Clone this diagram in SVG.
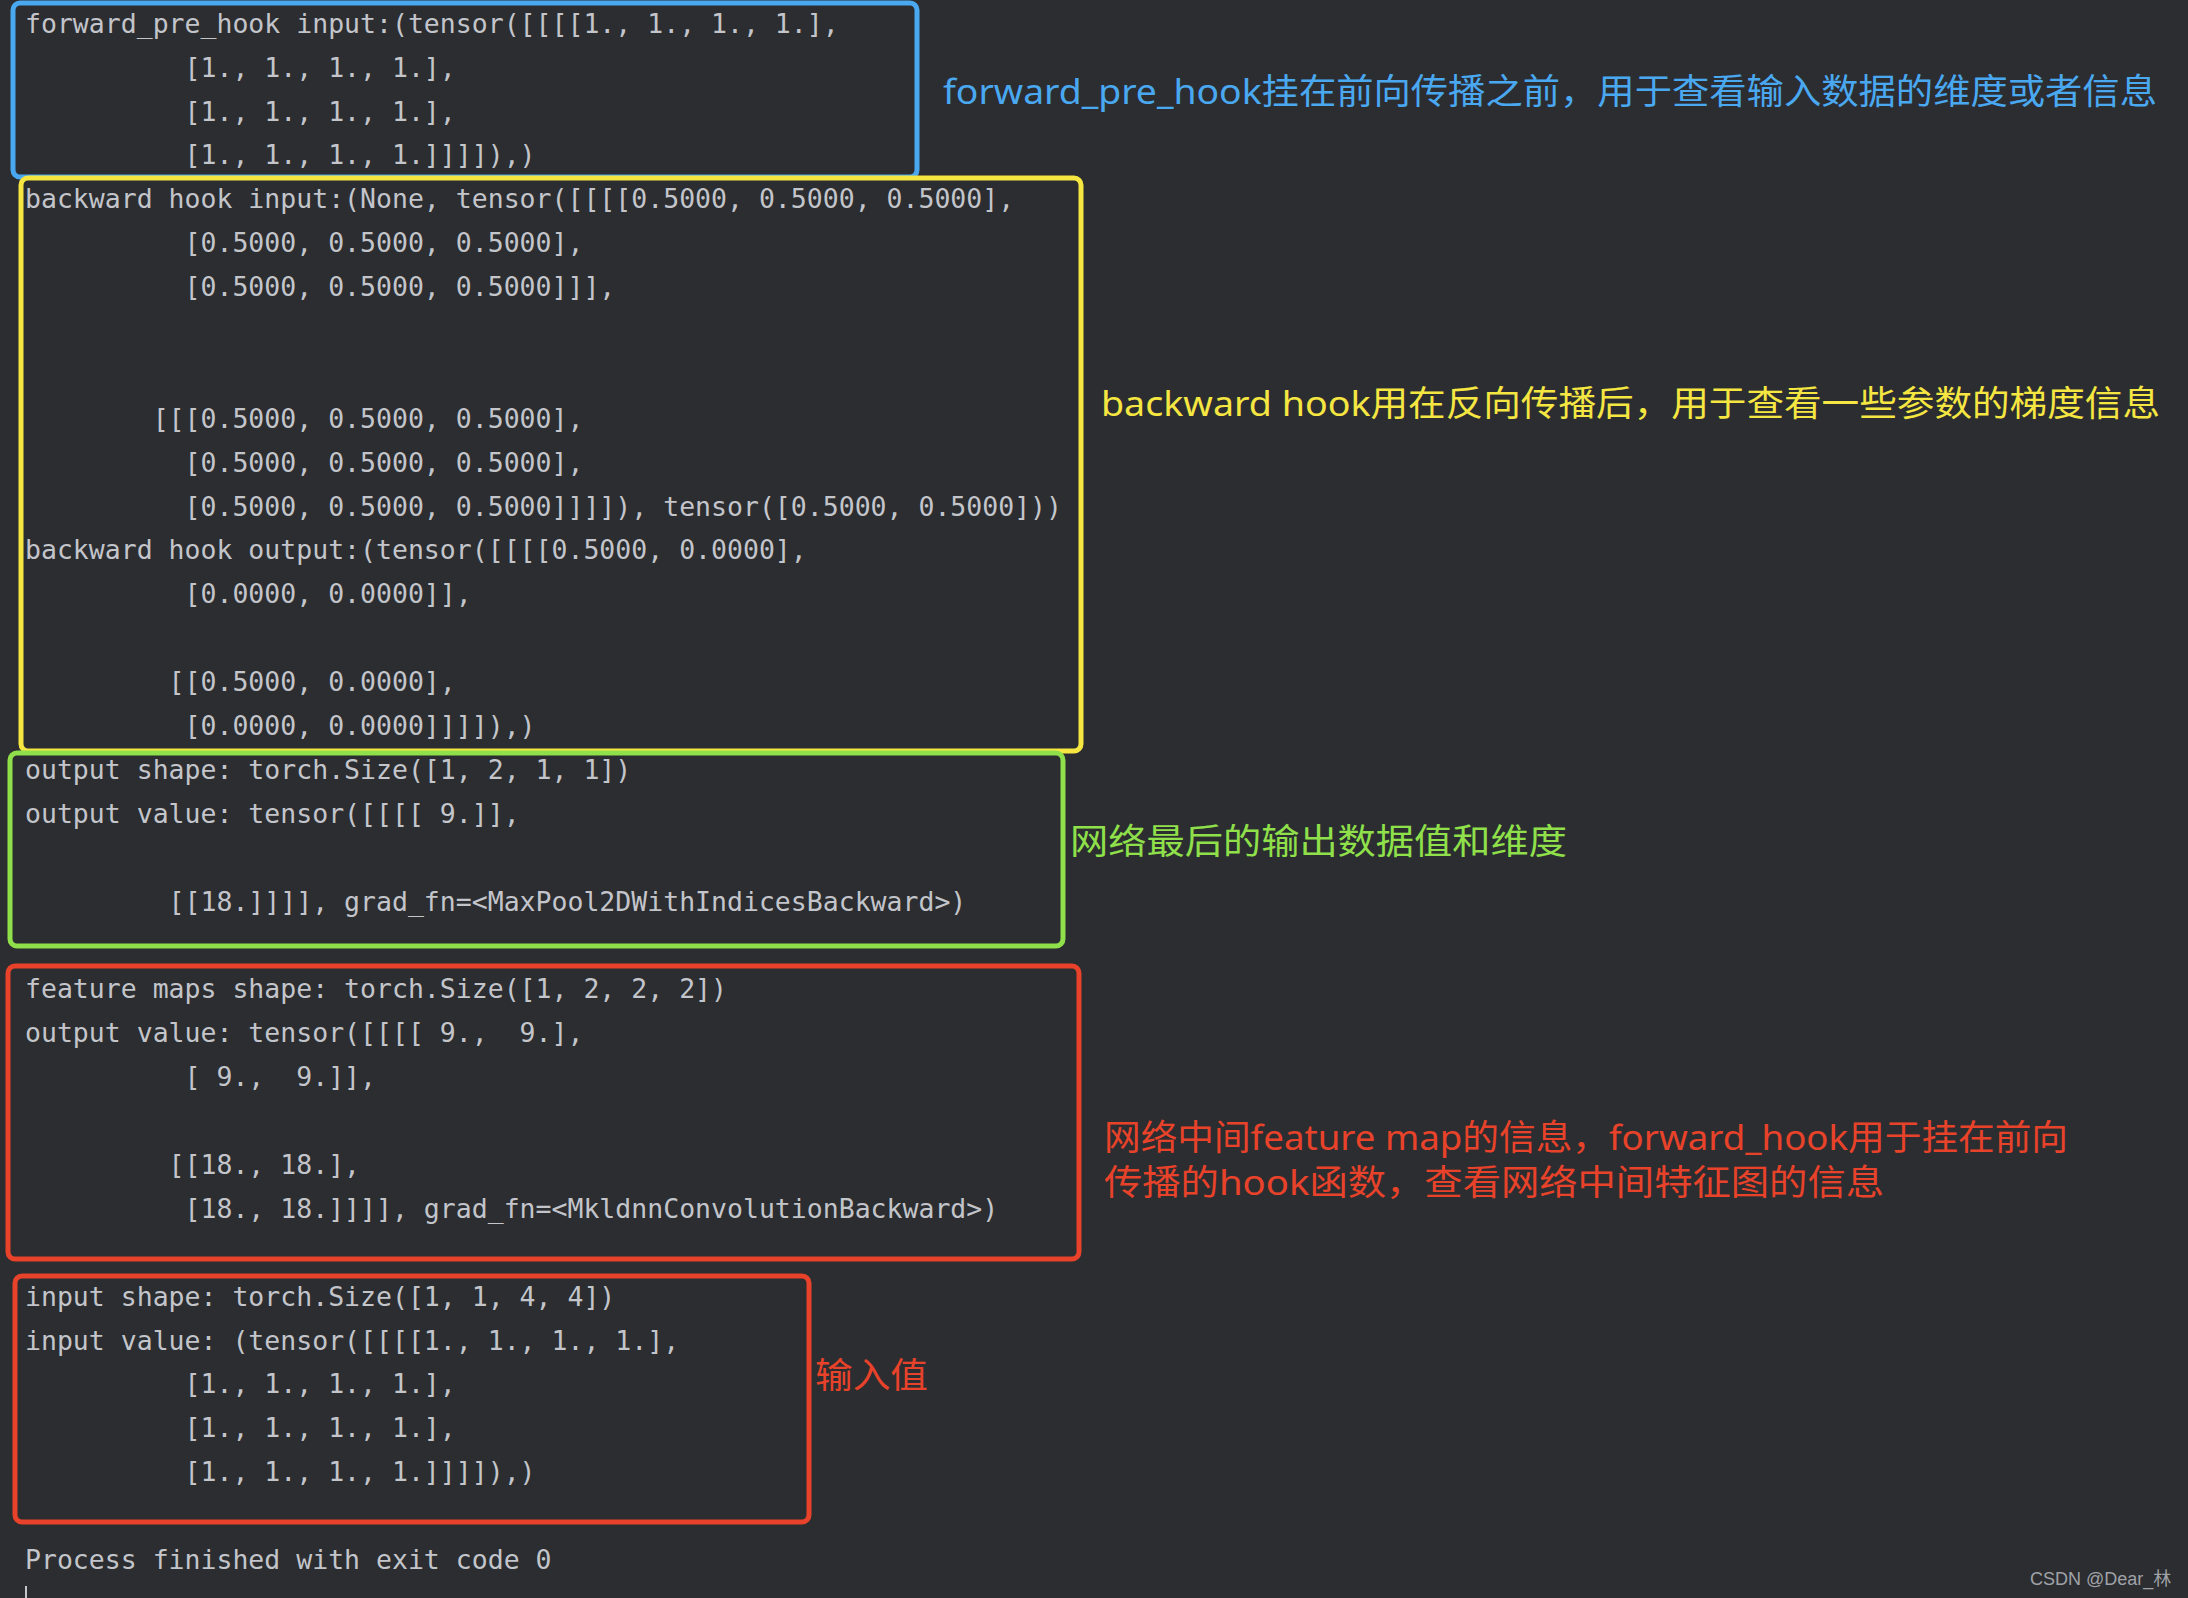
<svg xmlns="http://www.w3.org/2000/svg" width="2188" height="1598" viewBox="0 0 2188 1598">
<style>
.c{font-family:"DejaVu Sans Mono","Liberation Mono",monospace;font-size:26.5px;fill:#c3c5cb;white-space:pre}
.b{fill:none;stroke-width:5;rx:7}
.l{font-family:"Noto Sans","Noto Sans CJK SC",sans-serif;font-size:35px}
</style>
<rect width="2188" height="1598" fill="#2b2d30"/>
<g id="code" class="c" transform="translate(0,2)">
<text x="25" y="30.7" xml:space="preserve">forward_pre_hook input:(tensor([[[[1., 1., 1., 1.],</text>
<text x="25" y="74.6" xml:space="preserve">          [1., 1., 1., 1.],</text>
<text x="25" y="118.5" xml:space="preserve">          [1., 1., 1., 1.],</text>
<text x="25" y="162.4" xml:space="preserve">          [1., 1., 1., 1.]]]]),)</text>
<text x="25" y="206.3" xml:space="preserve">backward hook input:(None, tensor([[[[0.5000, 0.5000, 0.5000],</text>
<text x="25" y="250.2" xml:space="preserve">          [0.5000, 0.5000, 0.5000],</text>
<text x="25" y="294.1" xml:space="preserve">          [0.5000, 0.5000, 0.5000]]],</text>
<text x="25" y="425.7" xml:space="preserve">        [[[0.5000, 0.5000, 0.5000],</text>
<text x="25" y="469.6" xml:space="preserve">          [0.5000, 0.5000, 0.5000],</text>
<text x="25" y="513.5" xml:space="preserve">          [0.5000, 0.5000, 0.5000]]]]), tensor([0.5000, 0.5000]))</text>
<text x="25" y="557.4" xml:space="preserve">backward hook output:(tensor([[[[0.5000, 0.0000],</text>
<text x="25" y="601.3" xml:space="preserve">          [0.0000, 0.0000]],</text>
<text x="25" y="689.1" xml:space="preserve">         [[0.5000, 0.0000],</text>
<text x="25" y="733.0" xml:space="preserve">          [0.0000, 0.0000]]]]),)</text>
<text x="25" y="776.9" xml:space="preserve">output shape: torch.Size([1, 2, 1, 1])</text>
<text x="25" y="820.8" xml:space="preserve">output value: tensor([[[[ 9.]],</text>
<text x="25" y="908.6" xml:space="preserve">         [[18.]]]], grad_fn=&lt;MaxPool2DWithIndicesBackward&gt;)</text>
<text x="25" y="996.3" xml:space="preserve">feature maps shape: torch.Size([1, 2, 2, 2])</text>
<text x="25" y="1040.2" xml:space="preserve">output value: tensor([[[[ 9.,  9.],</text>
<text x="25" y="1084.1" xml:space="preserve">          [ 9.,  9.]],</text>
<text x="25" y="1171.9" xml:space="preserve">         [[18., 18.],</text>
<text x="25" y="1215.8" xml:space="preserve">          [18., 18.]]]], grad_fn=&lt;MkldnnConvolutionBackward&gt;)</text>
<text x="25" y="1303.6" xml:space="preserve">input shape: torch.Size([1, 1, 4, 4])</text>
<text x="25" y="1347.5" xml:space="preserve">input value: (tensor([[[[1., 1., 1., 1.],</text>
<text x="25" y="1391.4" xml:space="preserve">          [1., 1., 1., 1.],</text>
<text x="25" y="1435.3" xml:space="preserve">          [1., 1., 1., 1.],</text>
<text x="25" y="1479.2" xml:space="preserve">          [1., 1., 1., 1.]]]]),)</text>
<text x="25" y="1567.0" xml:space="preserve">Process finished with exit code 0</text>
</g>
<rect x="25" y="1586" width="2" height="12" fill="#c3c5cb"/>
<g id="boxes">
<rect id="blue" class="b" x="13" y="3" width="904" height="174" stroke="#4aa8f0"/>
<rect id="yellow" class="b" x="21" y="178" width="1060" height="573" stroke="#f5e642"/>
<rect id="green" class="b" x="10" y="753" width="1053" height="193" stroke="#8fe04a"/>
<rect id="red1" class="b" x="8" y="966" width="1071" height="293" stroke="#e8432a"/>
<rect id="red2" class="b" x="15" y="1276" width="794" height="246" stroke="#e8432a"/>
</g>
<g id="labels" class="l">
<text x="943" y="104" fill="#4aa8f0" textLength="1214" lengthAdjust="spacingAndGlyphs">forward_pre_hook挂在前向传播之前，用于查看输入数据的维度或者信息</text>
<text x="1101" y="416" fill="#f5e642" textLength="1059" lengthAdjust="spacingAndGlyphs">backward hook用在反向传播后，用于查看一些参数的梯度信息</text>
<text x="1070" y="854" fill="#8fe04a" textLength="497" lengthAdjust="spacingAndGlyphs">网络最后的输出数据值和维度</text>
<text x="1104" y="1150" fill="#e8432a" textLength="964" lengthAdjust="spacingAndGlyphs">网络中间feature map的信息，forward_hook用于挂在前向</text>
<text x="1104" y="1195" fill="#e8432a" textLength="780" lengthAdjust="spacingAndGlyphs">传播的hook函数，查看网络中间特征图的信息</text>
<text x="815" y="1388" fill="#e8432a" textLength="113" lengthAdjust="spacingAndGlyphs">输入值</text>
</g>
<text x="2030" y="1585" font-family="Liberation Sans,Noto Sans CJK SC,sans-serif" font-size="18" fill="#a0a2a8">CSDN @Dear_林</text>
</svg>
